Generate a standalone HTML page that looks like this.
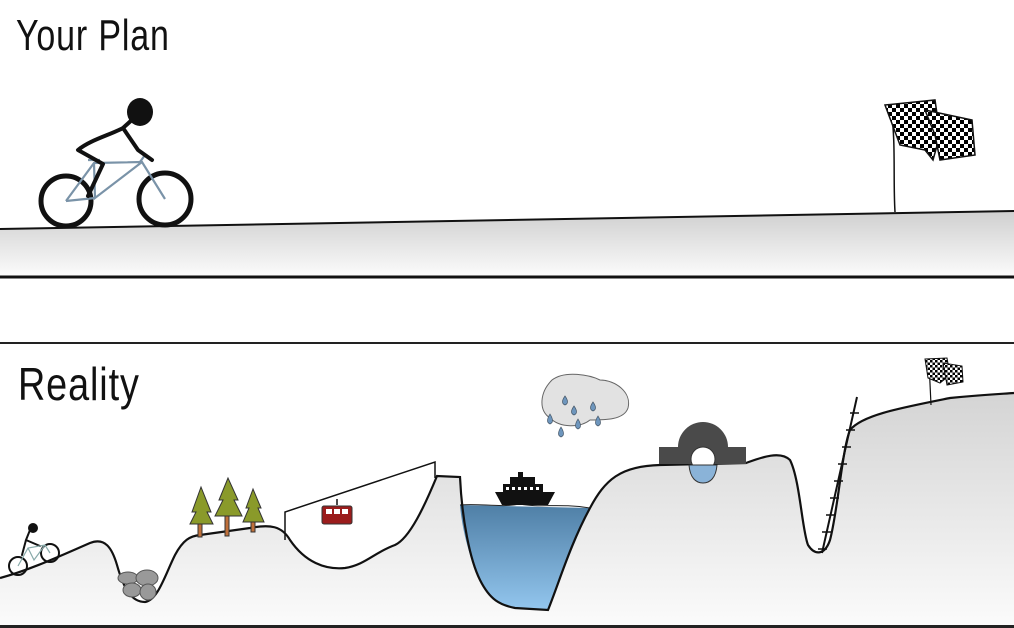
<!DOCTYPE html>
<html><head><meta charset="utf-8"><style>
html,body{margin:0;padding:0;background:#fff;}
svg{display:block;}
text{font-family:"Liberation Sans",sans-serif;}
</style></head><body>
<svg width="1014" height="628" viewBox="0 0 1014 628" xmlns="http://www.w3.org/2000/svg">
<defs>
<linearGradient id="g1" x1="0" y1="0" x2="0" y2="1"><stop offset="0" stop-color="#cfcfcf"/><stop offset="1" stop-color="#fbfbfb"/></linearGradient>
<linearGradient id="g2" x1="0" y1="0" x2="0" y2="1"><stop offset="0" stop-color="#d4d4d4"/><stop offset="1" stop-color="#fbfbfb"/></linearGradient>
<linearGradient id="w" x1="0" y1="0" x2="0" y2="1"><stop offset="0" stop-color="#4f7fa6"/><stop offset="1" stop-color="#93c6ee"/></linearGradient>
<pattern id="chk" width="8" height="8" patternUnits="userSpaceOnUse"><rect width="8" height="8" fill="#fff"/><rect width="4" height="4" fill="#000"/><rect x="4" y="4" width="4" height="4" fill="#000"/></pattern>
<pattern id="chk2" width="5" height="5" patternUnits="userSpaceOnUse"><rect width="5" height="5" fill="#fff"/><rect width="2.5" height="2.5" fill="#000"/><rect x="2.5" y="2.5" width="2.5" height="2.5" fill="#000"/></pattern>
</defs>
<rect width="1014" height="628" fill="#fff"/>
<!-- TOP PANEL -->
<text x="16" y="50" font-size="40" fill="#111" style="letter-spacing:1px" transform="translate(16,50) scale(0.85,1.1) translate(-16,-50)">Your Plan</text>
<path d="M0 229 L1014 211 L1014 276 L0 276 Z" fill="url(#g1)"/>
<path d="M0 229 L1014 211" stroke="#111" stroke-width="2" fill="none"/>
<rect x="0" y="275.5" width="1014" height="3" fill="#111"/>
<!-- bike -->
<g fill="none" stroke="#111" stroke-width="5">
<circle cx="66" cy="201" r="25"/><circle cx="165" cy="199" r="26"/>
</g>
<g fill="none" stroke="#7a93a8" stroke-width="2.2">
<path d="M66 201 L94 163 L142 162 L165 199 M94 163 L95 198 L142 162 M88 160 L100 160 M140 162 L145 155"/>
<path d="M66 201 L95 198"/>
</g>
<g fill="none" stroke="#111" stroke-width="4" stroke-linecap="round" stroke-linejoin="round">
<path d="M134 118 L123 128 C110 135 90 140 78 150 L103 164 L88 196 M123 128 L138 150 L152 160"/>
</g>
<ellipse cx="140" cy="112" rx="13" ry="14" fill="#111"/>
<!-- flag -->
<path d="M895 212 C893 180 896 140 891 110" stroke="#111" stroke-width="1.5" fill="none"/>
<path d="M885 105 L935 100 L940 135 L933 160 L925 150 L900 145 Z" fill="url(#chk)" stroke="#111" stroke-width="1.5"/>
<path d="M925 110 L972 120 L975 155 L940 160 L935 135 Z" fill="url(#chk)" stroke="#111" stroke-width="1.5"/>
<!-- BOTTOM PANEL -->
<rect x="0" y="342" width="1014" height="2" fill="#222"/>
<text x="18" y="400" font-size="42" fill="#111" style="letter-spacing:1px" transform="translate(18,400) scale(0.9,1.1) translate(-18,-400)">Reality</text>
<!-- terrain -->
<path d="M0 578 C30 570 60 556 90 543 C105 537 112 548 117 565 C124 590 132 602 145 602 C158 600 165 575 175 555 C183 540 190 536 200 535 L250 528 C270 524 282 526 290 540 C305 562 325 570 345 568 C365 565 375 552 395 545 C410 538 425 505 437 476 L460 477 C462 520 470 560 480 580 C490 600 500 605 515 608 L548 610 C560 580 570 545 590 508 C605 480 620 466 660 465 L746 463 C760 458 780 450 790 460 C800 480 802 530 808 545 C815 556 825 555 830 540 C838 510 842 450 850 430 C862 415 900 408 950 398 C980 395 1000 394 1014 393 L1014 626 L0 626 Z" fill="url(#g2)"/>
<!-- water -->
<path d="M460 505 L590 508 C575 540 560 580 548 610 L515 608 C500 605 490 600 480 580 C470 560 462 530 460 505 Z" fill="url(#w)"/>
<path d="M460 505 C480 503 500 508 520 504 C540 508 560 503 590 508" stroke="#222" stroke-width="1" fill="none"/>
<path d="M0 578 C30 570 60 556 90 543 C105 537 112 548 117 565 C124 590 132 602 145 602 C158 600 165 575 175 555 C183 540 190 536 200 535 L250 528 C270 524 282 526 290 540 C305 562 325 570 345 568 C365 565 375 552 395 545 C410 538 425 505 437 476 L460 477 C462 520 470 560 480 580 C490 600 500 605 515 608 L548 610 C560 580 570 545 590 508 C605 480 620 466 660 465 L746 463 C760 458 780 450 790 460 C800 480 802 530 808 545 C815 556 825 555 830 540 C838 510 842 450 850 430 C862 415 900 408 950 398 C980 395 1000 394 1014 393" fill="none" stroke="#111" stroke-width="2.2"/>
<rect x="0" y="625" width="1014" height="3" fill="#222"/>
<!-- rocks -->
<g fill="#999" stroke="#555" stroke-width="1">
<ellipse cx="128" cy="578" rx="10" ry="6"/><ellipse cx="147" cy="578" rx="11" ry="8"/><ellipse cx="132" cy="590" rx="9" ry="7"/><ellipse cx="148" cy="592" rx="8" ry="8"/>
</g>
<!-- trees -->
<g stroke="#333" stroke-width="1">
<rect x="198" y="515" width="4" height="22" fill="#c0703a"/><rect x="225" y="508" width="4" height="28" fill="#c0703a"/><rect x="251" y="512" width="4" height="20" fill="#c0703a"/>
<path d="M201 487 L192 512 L196 512 L190 524 L213 524 L207 512 L211 512 Z" fill="#8a9a2a"/>
<path d="M228 478 L219 500 L223 500 L215 516 L242 516 L234 500 L238 500 Z" fill="#8a9a2a"/>
<path d="M253 489 L246 508 L249 508 L243 522 L264 522 L258 508 L261 508 Z" fill="#8a9a2a"/>
</g>
<!-- cable car -->
<path d="M285 540 L285 512 L435 462 L435 478" stroke="#111" stroke-width="1.5" fill="none"/>
<path d="M337 505 L337 499" stroke="#111" stroke-width="1.5"/>
<rect x="322" y="506" width="30" height="18" rx="2" fill="#9b1c1c" stroke="#333"/>
<rect x="326" y="509" width="6" height="5" fill="#fff"/><rect x="334" y="509" width="6" height="5" fill="#fff"/><rect x="342" y="509" width="6" height="5" fill="#fff"/>
<!-- small bike -->
<g fill="none" stroke="#111" stroke-width="2"><circle cx="18" cy="566" r="9"/><circle cx="50" cy="553" r="9"/>
<path d="M30 530 L26 540 L40 546 M26 540 L22 555" stroke-linecap="round"/></g>
<path d="M18 566 L28 548 L45 545 L50 553 M28 548 L34 560 L45 545" stroke="#8aa" stroke-width="1.2" fill="none"/>
<circle cx="33" cy="528" r="5" fill="#111"/>
<!-- ship -->
<path d="M495 492 L555 492 L548 505 L502 505 Z" fill="#111"/>
<rect x="503" y="484" width="40" height="9" fill="#111"/>
<rect x="510" y="477" width="25" height="8" fill="#111"/>
<rect x="518" y="472" width="5" height="6" fill="#111"/>
<g fill="#fff"><rect x="506" y="487" width="3" height="3"/><rect x="512" y="487" width="3" height="3"/><rect x="518" y="487" width="3" height="3"/><rect x="524" y="487" width="3" height="3"/><rect x="530" y="487" width="3" height="3"/><rect x="536" y="487" width="3" height="3"/></g>
<!-- cloud -->
<path d="M552 380 C565 370 590 375 600 380 C615 380 632 392 628 408 C624 420 605 420 590 420 C580 428 560 428 550 418 C538 410 540 392 552 380 Z" fill="#e2e2e2" stroke="#666" stroke-width="1"/>
<g fill="#6e96bd" stroke="#456" stroke-width="0.7">
<path d="M565 396 q-5 7 0 9 q5 -2 0 -9z"/><path d="M574 406 q-5 7 0 9 q5 -2 0 -9z"/><path d="M593 402 q-5 7 0 9 q5 -2 0 -9z"/><path d="M550 414 q-5 8 0 10 q5 -2 0 -10z"/><path d="M578 419 q-5 8 0 10 q5 -2 0 -10z"/><path d="M598 416 q-5 8 0 10 q5 -2 0 -10z"/><path d="M561 427 q-5 8 0 10 q5 -2 0 -10z"/>
</g>
<!-- bridge -->
<path d="M659 447 L678 447 A25 25 0 0 1 728 447 L746 447 L746 464 L659 464 Z" fill="#4a4a4a"/>
<circle cx="703" cy="459" r="12" fill="#fff" stroke="#333"/>
<path d="M689 465 L717 465 C716 478 710 483 703 483 C696 483 690 478 689 465 Z" fill="#8ab3d8" stroke="#333"/>
<!-- ladder -->
<path d="M822 553 L857 397" stroke="#111" stroke-width="2"/>
<g stroke="#111" stroke-width="1.5">
<path d="M818 549 l9 0 M822 532 l9 0 M826 515 l9 0 M830 498 l9 0 M834 481 l9 0 M838 464 l9 0 M842 447 l9 0 M846 430 l9 0 M850 413 l9 0"/>
</g>
<!-- small flag -->
<path d="M931 405 L929 362" stroke="#111" stroke-width="1.2"/>
<path d="M925 359 L947 358 L950 375 L940 383 L928 378 Z" fill="url(#chk2)" stroke="#111"/>
<path d="M943 363 L962 366 L963 382 L947 385 Z" fill="url(#chk2)" stroke="#111"/>
</svg>
</body></html>
